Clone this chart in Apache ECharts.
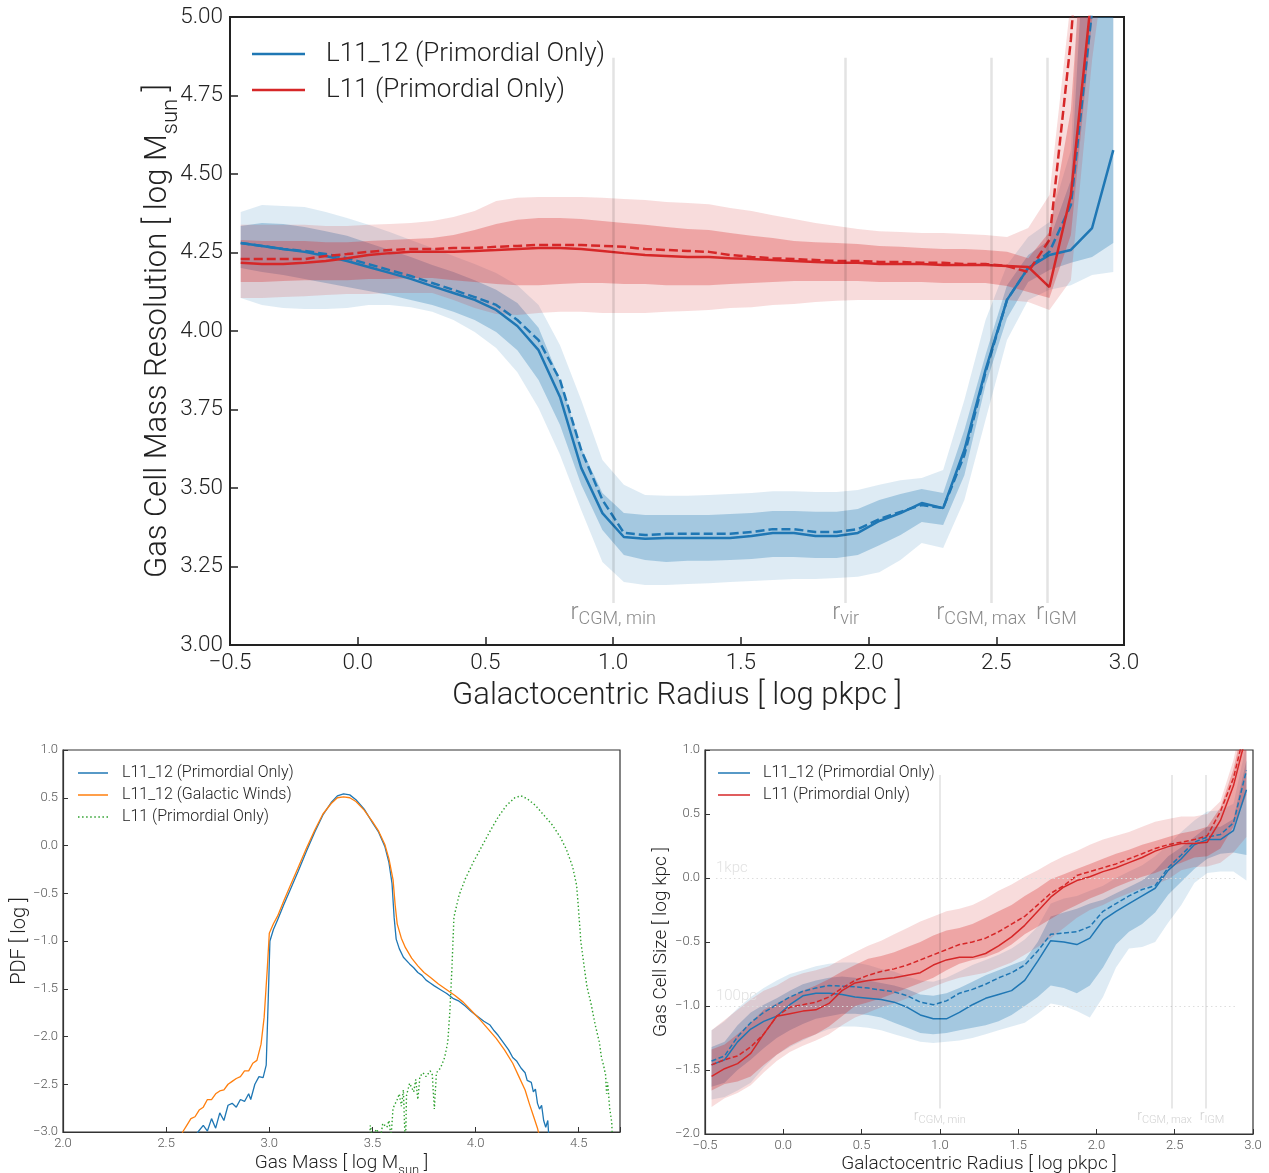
<!DOCTYPE html>
<html><head><meta charset="utf-8">
<script src="https://cdn.jsdelivr.net/npm/echarts@6/dist/echarts.min.js"></script>
<style>html,body{margin:0;padding:0;background:#fff}#c{width:1269px;height:1173px}</style>
</head><body><div id="c"></div>
<script>
// ---------- shared radial bins (log pkpc) ----------
const xBins = [-0.458,-0.375,-0.292,-0.208,-0.125,-0.042,0.042,0.125,0.208,0.292,0.375,0.458,0.542,0.625,0.708,0.792,0.875,0.958,1.042,1.125,1.208,1.292,1.375,1.458,1.542,1.625,1.708,1.792,1.875,1.958,2.042,2.125,2.208,2.292,2.375,2.458,2.542,2.625,2.708,2.792,2.875,2.958];

// ---------- top panel: gas cell mass resolution ----------
const topBlueSolid  = [4.280,4.271,4.261,4.252,4.239,4.223,4.204,4.185,4.166,4.143,4.121,4.099,4.067,4.016,3.939,3.790,3.564,3.420,3.344,3.338,3.341,3.341,3.341,3.341,3.347,3.357,3.357,3.347,3.347,3.357,3.395,3.420,3.452,3.436,3.621,3.876,4.099,4.201,4.242,4.258,4.328,4.576];
const topBlueDashed = [4.280,4.271,4.261,4.255,4.245,4.232,4.213,4.194,4.175,4.153,4.131,4.108,4.083,4.035,3.971,3.844,3.621,3.462,3.357,3.350,3.354,3.354,3.354,3.354,3.360,3.369,3.369,3.360,3.360,3.369,3.401,3.424,3.446,3.436,3.605,3.869,4.099,4.201,4.252,4.401,5.022,5.691];
const topBlueInHi   = [4.334,4.344,4.341,4.331,4.318,4.303,4.280,4.258,4.236,4.210,4.188,4.162,4.131,4.089,4.010,3.844,3.627,3.484,3.420,3.414,3.414,3.414,3.414,3.417,3.420,3.427,3.427,3.424,3.424,3.433,3.462,3.481,3.497,3.484,3.685,3.924,4.146,4.242,4.290,4.481,5.690,6.330];
const topBlueInLo   = [4.201,4.188,4.178,4.166,4.153,4.140,4.127,4.115,4.099,4.083,4.061,4.035,3.997,3.939,3.844,3.701,3.510,3.366,3.287,3.271,3.264,3.268,3.268,3.271,3.274,3.280,3.280,3.277,3.277,3.287,3.318,3.350,3.392,3.382,3.541,3.828,4.041,4.156,4.194,4.217,4.236,4.280];
const topBlueOutHi  = [4.379,4.401,4.398,4.395,4.379,4.360,4.338,4.315,4.290,4.264,4.239,4.213,4.185,4.146,4.083,3.955,3.780,3.589,3.510,3.478,3.475,3.475,3.478,3.481,3.484,3.490,3.490,3.487,3.487,3.494,3.510,3.525,3.532,3.557,3.780,4.035,4.210,4.299,4.347,4.576,6.010,6.650];
const topBlueOutLo  = [4.105,4.083,4.073,4.070,4.070,4.073,4.083,4.083,4.076,4.061,4.035,3.997,3.946,3.869,3.755,3.605,3.430,3.264,3.201,3.191,3.191,3.194,3.197,3.201,3.204,3.207,3.210,3.210,3.213,3.217,3.232,3.271,3.325,3.309,3.462,3.717,3.971,4.099,4.131,4.146,4.178,4.188];
const topRedSolid   = [4.217,4.213,4.213,4.217,4.223,4.232,4.242,4.248,4.252,4.252,4.252,4.255,4.258,4.261,4.264,4.264,4.261,4.255,4.248,4.242,4.239,4.236,4.236,4.232,4.229,4.226,4.223,4.220,4.217,4.217,4.213,4.213,4.213,4.210,4.210,4.210,4.207,4.204,4.140,4.433,5.086,5.691];
const topRedDashed  = [4.229,4.229,4.229,4.229,4.239,4.245,4.252,4.258,4.261,4.261,4.264,4.264,4.268,4.271,4.274,4.274,4.274,4.271,4.268,4.261,4.258,4.255,4.252,4.242,4.236,4.232,4.229,4.226,4.223,4.223,4.220,4.220,4.217,4.217,4.213,4.213,4.207,4.188,4.290,4.927,5.850,6.646];
const topRedInHi    = [4.290,4.287,4.287,4.287,4.283,4.283,4.287,4.290,4.293,4.296,4.306,4.322,4.341,4.354,4.360,4.360,4.357,4.350,4.344,4.338,4.331,4.325,4.322,4.312,4.303,4.296,4.287,4.283,4.280,4.277,4.271,4.268,4.264,4.261,4.261,4.258,4.252,4.232,4.315,4.704,5.691,6.646];
const topRedInLo    = [4.156,4.156,4.159,4.162,4.162,4.162,4.166,4.166,4.169,4.169,4.162,4.156,4.150,4.146,4.146,4.150,4.153,4.153,4.150,4.150,4.146,4.146,4.146,4.150,4.153,4.156,4.159,4.159,4.159,4.159,4.156,4.156,4.156,4.153,4.153,4.153,4.143,4.124,4.105,4.306,4.990,5.532];
const topRedOutHi   = [4.338,4.338,4.338,4.338,4.334,4.334,4.338,4.341,4.344,4.350,4.363,4.382,4.414,4.424,4.427,4.427,4.427,4.424,4.420,4.417,4.411,4.408,4.404,4.392,4.382,4.369,4.357,4.344,4.334,4.325,4.318,4.315,4.312,4.312,4.309,4.306,4.299,4.328,4.433,5.054,6.010,6.965];
const topRedOutLo   = [4.105,4.105,4.108,4.111,4.115,4.118,4.118,4.121,4.121,4.121,4.099,4.073,4.054,4.051,4.057,4.061,4.061,4.057,4.057,4.057,4.061,4.064,4.067,4.073,4.076,4.083,4.086,4.092,4.096,4.099,4.099,4.099,4.099,4.099,4.099,4.099,4.099,4.092,4.067,4.162,4.863,5.373];
const topRefX = [1.0, 1.91, 2.48, 2.70];
const topRefNames = ['CGM, min', 'vir', 'CGM, max', 'IGM'];
const topRefSpan = [3.134, 4.87];

// ---------- bottom-left: PDF of gas mass ----------
const pdfBlueX = [2.60,2.654,2.68,2.70,2.72,2.74,2.76,2.78,2.80,2.82,2.84,2.86,2.88,2.90,2.91,2.93,2.95,2.97,2.985,2.995,3.003,3.02,3.04,3.07,3.10,3.14,3.18,3.22,3.26,3.30,3.33,3.36,3.39,3.42,3.46,3.50,3.53,3.56,3.58,3.595,3.605,3.615,3.63,3.65,3.68,3.70,3.72,3.74,3.76,3.78,3.80,3.83,3.86,3.89,3.92,3.95,3.98,4.01,4.04,4.07,4.09,4.11,4.14,4.16,4.18,4.20,4.22,4.24,4.25,4.27,4.28,4.29,4.30,4.31,4.32,4.33,4.34,4.35,4.355,4.36];
const pdfBlueY = [-3.2,-3.0,-2.93,-2.99,-2.86,-2.96,-2.80,-2.88,-2.72,-2.70,-2.74,-2.66,-2.68,-2.60,-2.66,-2.50,-2.42,-2.43,-2.30,-1.6,-1.0,-0.88,-0.78,-0.62,-0.47,-0.27,-0.06,0.14,0.32,0.45,0.52,0.54,0.53,0.48,0.38,0.24,0.14,-0.01,-0.18,-0.40,-0.75,-0.98,-1.08,-1.17,-1.24,-1.28,-1.33,-1.36,-1.41,-1.44,-1.47,-1.51,-1.55,-1.60,-1.63,-1.68,-1.74,-1.79,-1.84,-1.88,-1.94,-1.99,-2.08,-2.14,-2.22,-2.26,-2.33,-2.38,-2.46,-2.48,-2.58,-2.55,-2.70,-2.76,-2.72,-2.88,-2.95,-2.88,-3.05,-3.2];
const pdfOrangeX = [2.56,2.58,2.60,2.62,2.64,2.66,2.68,2.70,2.72,2.74,2.76,2.78,2.80,2.82,2.84,2.86,2.88,2.90,2.92,2.94,2.96,2.975,2.99,3.00,3.02,3.04,3.07,3.10,3.14,3.18,3.22,3.26,3.30,3.33,3.36,3.39,3.42,3.46,3.50,3.53,3.56,3.58,3.60,3.61,3.62,3.64,3.66,3.69,3.72,3.75,3.78,3.82,3.86,3.90,3.94,3.98,4.02,4.06,4.10,4.14,4.18,4.21,4.24,4.26,4.28,4.30,4.31,4.32];
const pdfOrangeY = [-3.2,-3.0,-2.93,-2.86,-2.84,-2.77,-2.74,-2.66,-2.66,-2.60,-2.57,-2.56,-2.50,-2.47,-2.44,-2.42,-2.36,-2.36,-2.28,-2.25,-2.08,-1.80,-1.30,-0.92,-0.82,-0.74,-0.58,-0.43,-0.23,-0.03,0.16,0.33,0.44,0.50,0.51,0.50,0.46,0.37,0.25,0.15,0.01,-0.14,-0.36,-0.62,-0.82,-0.97,-1.07,-1.18,-1.26,-1.33,-1.38,-1.45,-1.51,-1.57,-1.64,-1.73,-1.82,-1.92,-2.02,-2.14,-2.28,-2.42,-2.56,-2.70,-2.83,-2.96,-3.05,-3.2];
const pdfGreenX = [3.48,3.49,3.50,3.52,3.54,3.55,3.57,3.58,3.59,3.60,3.62,3.63,3.64,3.65,3.66,3.665,3.68,3.70,3.71,3.72,3.73,3.745,3.76,3.78,3.79,3.80,3.81,3.83,3.85,3.865,3.875,3.885,3.895,3.92,3.95,3.99,4.03,4.07,4.11,4.15,4.19,4.22,4.25,4.29,4.33,4.37,4.41,4.44,4.47,4.49,4.50,4.51,4.525,4.54,4.56,4.58,4.60,4.61,4.62,4.63,4.635,4.64,4.65,4.66,4.665];
const pdfGreenY = [-3.3,-2.93,-3.05,-2.97,-3.05,-2.91,-2.95,-2.88,-3.05,-2.75,-2.66,-2.60,-2.73,-2.56,-3.2,-2.62,-2.49,-2.58,-2.45,-2.66,-2.42,-2.38,-2.42,-2.36,-2.40,-2.76,-2.38,-2.33,-2.22,-2.06,-1.75,-1.30,-0.75,-0.52,-0.35,-0.17,-0.01,0.15,0.30,0.42,0.50,0.52,0.49,0.42,0.32,0.22,0.09,-0.04,-0.22,-0.42,-0.70,-1.00,-1.25,-1.48,-1.66,-1.88,-2.06,-2.22,-2.30,-2.40,-2.60,-2.48,-2.75,-2.90,-3.2];

// ---------- bottom-right: gas cell size ----------
const brBlueSolid  = [-1.46,-1.42,-1.28,-1.18,-1.12,-1.08,-0.99,-0.92,-0.90,-0.90,-0.91,-0.93,-0.94,-0.95,-0.97,-1.01,-1.07,-1.10,-1.10,-1.05,-0.99,-0.94,-0.91,-0.88,-0.80,-0.65,-0.49,-0.50,-0.52,-0.47,-0.33,-0.26,-0.20,-0.14,-0.08,0.06,0.15,0.26,0.30,0.30,0.37,0.69];
const brBlueDashed = [-1.43,-1.39,-1.24,-1.13,-1.05,-0.99,-0.93,-0.885,-0.86,-0.84,-0.845,-0.85,-0.86,-0.875,-0.89,-0.92,-0.97,-0.99,-0.96,-0.90,-0.87,-0.83,-0.78,-0.74,-0.68,-0.57,-0.44,-0.43,-0.42,-0.38,-0.26,-0.20,-0.14,-0.09,-0.06,0.08,0.18,0.28,0.32,0.34,0.43,0.84];
const brBlueInHi   = [-1.32,-1.28,-1.15,-1.05,-0.99,-0.94,-0.88,-0.83,-0.80,-0.78,-0.77,-0.78,-0.80,-0.82,-0.84,-0.87,-0.91,-0.92,-0.90,-0.86,-0.81,-0.76,-0.72,-0.68,-0.64,-0.50,-0.30,-0.27,-0.24,-0.20,-0.17,-0.12,-0.07,-0.02,0.06,0.17,0.24,0.32,0.40,0.40,0.46,0.92];
const brBlueInLo   = [-1.63,-1.60,-1.50,-1.42,-1.33,-1.25,-1.19,-1.14,-1.10,-1.08,-1.06,-1.06,-1.07,-1.09,-1.13,-1.17,-1.21,-1.22,-1.21,-1.19,-1.17,-1.15,-1.12,-1.07,-1.00,-0.93,-0.84,-0.86,-0.90,-0.84,-0.70,-0.52,-0.42,-0.36,-0.27,-0.13,-0.03,0.07,0.15,0.19,0.20,0.18];
const brBlueOutHi  = [-1.19,-1.12,-1.02,-0.93,-0.86,-0.80,-0.75,-0.72,-0.69,-0.67,-0.66,-0.66,-0.68,-0.71,-0.73,-0.77,-0.80,-0.81,-0.78,-0.73,-0.68,-0.64,-0.60,-0.55,-0.48,-0.38,-0.20,-0.16,-0.14,-0.10,-0.06,0.00,0.05,0.10,0.17,0.26,0.36,0.45,0.52,0.53,0.58,1.05];
const brBlueOutLo  = [-1.73,-1.71,-1.66,-1.60,-1.48,-1.38,-1.32,-1.27,-1.22,-1.18,-1.16,-1.16,-1.17,-1.19,-1.22,-1.25,-1.28,-1.29,-1.28,-1.27,-1.25,-1.22,-1.19,-1.16,-1.13,-1.06,-0.98,-1.00,-1.04,-1.09,-0.93,-0.70,-0.55,-0.54,-0.50,-0.35,-0.21,-0.04,0.04,0.05,0.05,-0.02];
const brRedSolid   = [-1.55,-1.49,-1.45,-1.37,-1.22,-1.08,-1.06,-1.04,-1.03,-0.98,-0.88,-0.82,-0.80,-0.79,-0.78,-0.76,-0.74,-0.68,-0.64,-0.62,-0.62,-0.59,-0.53,-0.46,-0.37,-0.26,-0.15,-0.07,-0.02,0.01,0.05,0.08,0.12,0.16,0.21,0.245,0.27,0.27,0.28,0.45,0.72,1.12];
const brRedDashed  = [-1.46,-1.42,-1.39,-1.32,-1.22,-1.08,-1.01,-0.99,-0.97,-0.93,-0.86,-0.80,-0.76,-0.73,-0.71,-0.68,-0.64,-0.60,-0.56,-0.52,-0.50,-0.47,-0.42,-0.36,-0.30,-0.21,-0.12,-0.06,0.02,0.05,0.08,0.11,0.15,0.19,0.23,0.26,0.28,0.30,0.33,0.52,0.78,1.2];
const brRedInHi    = [-1.34,-1.30,-1.22,-1.13,-1.03,-0.98,-0.93,-0.88,-0.84,-0.79,-0.73,-0.68,-0.63,-0.61,-0.58,-0.54,-0.50,-0.45,-0.41,-0.39,-0.36,-0.31,-0.26,-0.21,-0.14,-0.08,-0.01,0.03,0.07,0.11,0.15,0.19,0.22,0.26,0.29,0.32,0.35,0.37,0.40,0.55,0.85,1.30];
const brRedInLo    = [-1.66,-1.61,-1.59,-1.55,-1.46,-1.38,-1.31,-1.26,-1.22,-1.16,-1.08,-1.00,-0.97,-0.94,-0.90,-0.86,-0.82,-0.78,-0.72,-0.67,-0.64,-0.62,-0.58,-0.52,-0.44,-0.38,-0.32,-0.26,-0.21,-0.16,-0.12,-0.07,-0.03,0.01,0.04,0.08,0.12,0.16,0.17,0.23,0.40,0.65];
const brRedOutHi   = [-1.19,-1.11,-1.03,-0.95,-0.88,-0.84,-0.78,-0.745,-0.72,-0.69,-0.63,-0.58,-0.53,-0.49,-0.44,-0.39,-0.34,-0.30,-0.26,-0.24,-0.21,-0.16,-0.10,-0.05,0.01,0.06,0.12,0.17,0.21,0.26,0.30,0.33,0.36,0.40,0.44,0.46,0.48,0.48,0.50,0.60,0.92,1.40];
const brRedOutLo   = [-1.79,-1.72,-1.68,-1.62,-1.52,-1.43,-1.36,-1.31,-1.27,-1.22,-1.15,-1.09,-1.05,-1.01,-0.98,-0.94,-0.89,-0.85,-0.81,-0.78,-0.76,-0.74,-0.70,-0.66,-0.60,-0.54,-0.47,-0.39,-0.31,-0.25,-0.21,-0.16,-0.12,-0.08,-0.05,-0.01,0.06,0.085,0.09,0.12,0.20,0.32];
const brRefX = [1.0, 2.48, 2.70];
const brRefNames = ['CGM, min', 'CGM, max', 'IGM'];
const brRefSpan = [-1.80, 0.805];
const brScaleY = [0, -1];
const brScaleNames = ['1kpc', '100pc'];
const brScaleSpan = [-0.43, 2.90];

// ---------- styling ----------
const BLUE='#1f77b4', RED='#d62728', ORANGE='#ff7f0e', GREEN='#2ca02c';
const F='Roboto';
const N1='L11_12 (Primordial Only)', N2='L11 (Primordial Only)', N3='L11_12 (Galactic Winds)';
const strip = n => n.replace(/ #\d$/, '');
const DOTS = 'path://M0 0h1.4v1h-1.4zM3.8 0h1.4v1h-1.4zM7.6 0h1.4v1h-1.4zM11.4 0h1.4v1h-1.4zM15.2 0h1.4v1h-1.4zM19 0h1.4v1h-1.4zM22.8 0h1.4v1h-1.4zM26.6 0h1.4v1h-1.4z';

function fmt(d, step){
  return v => {
    const k = v/step;
    if (Math.abs(k-Math.round(k))>1e-6) return '';
    return v.toFixed(d).replace('-', '\u2212');
  };
}
function P(xs, ys){ return xs.map((x,i)=>[x, ys[i]]); }
// filled band between lo and hi, drawn as one polygon through the axis scales
function band(g, xs, lo, hi, color){
  return {type:'custom', xAxisIndex:g, yAxisIndex:g, silent:true, z:2, clip:true,
    data: xs.map((x,i)=>[x, lo[i], hi[i]]),
    encode:{x:0, y:[1,2]},
    renderItem:(params, api)=>{
      if (params.dataIndex !== 0) return null;
      const pts = [];
      for (let i=0;i<xs.length;i++) pts.push(api.coord([xs[i], hi[i]]));
      for (let i=xs.length-1;i>=0;i--) pts.push(api.coord([xs[i], lo[i]]));
      return {type:'polygon', shape:{points:pts}, style:{fill:color, stroke:null}};
    }};
}
function line(g, name, xs, ys, color, width, type){
  return {type:'line', name:name, xAxisIndex:g, yAxisIndex:g, data:P(xs,ys), symbol:'none', showSymbol:false,
    lineStyle:{color:color, width:width, type:type||'solid', cap:'butt'}, itemStyle:{color:color}, silent:true, z:4, clip:true};
}
function txt(size, color, extra){ return Object.assign({fontFamily:F, fontWeight:300, fontSize:size, color:color}, extra||{}); }

function axisCfg(g, min, max, step, dec, name, o){
  return {gridIndex:g, type:'value', min:min, max:max, interval:step,
    axisLine:{show:true, onZero:false, lineStyle:{color:o.lc, width:o.lw}},
    axisTick:{show:true, inside:true, length:o.tl, lineStyle:{color:o.lc, width:o.tw}},
    splitLine:{show:false},
    axisLabel:txt(o.fs, o.labc, {margin:o.m, formatter:fmt(dec, step)}),
    name:name, nameLocation:'middle', nameGap:o.ng, nameMoveOverlap:false,
    nameTextStyle:txt(o.nfs, '#222', {rich:o.rich})};
}
function yAxisCfg(g, min, max, step, dec, name, o){
  const a = axisCfg(g, min, max, step, dec, name, o);
  a.nameRotate = 90;
  return a;
}
function richName(fs, sfs, pad){
  return {m:txt(fs,'#222',{verticalAlign:'bottom', lineHeight:fs, padding:[0,0,pad,0]}),
          s:txt(sfs,'#222',{verticalAlign:'bottom', lineHeight:sfs})};
}

const topO  = {lc:'#222', lw:2, tl:8, tw:1.5, fs:22.5, labc:'#222', m:7, ng:44, nfs:31, rich:richName(31,22,8)};
const topYO = Object.assign({}, topO, {ng:48});
const blO   = {lc:'#333', lw:1.2, tl:5, tw:1, fs:13, labc:'#555', m:5, ng:26, nfs:19, rich:richName(19,13,4)};
const blYO  = Object.assign({}, blO, {nfs:20, rich:richName(20,14,5), ng:28});
const brO   = Object.assign({}, blO, {nfs:19, rich:richName(19,13,5), ng:26});
const brYO  = Object.assign({}, brO, {ng:29});

function refLines(g, xs, names, span, offs, o){
  return {type:'line', name:'ref'+g, xAxisIndex:g, yAxisIndex:g, data:[], silent:true, z:3,
    markLine:{silent:true, symbol:['none','none'], animation:false,
      lineStyle:{color:o.color, width:o.width, type:'solid'},
      label:{show:true, position:'start', distance:o.dist, color:o.tc,
        rich:{r:txt(o.rs, o.tc, {verticalAlign:'bottom', lineHeight:o.rs, padding:[0,0,o.rp,0]}),
              s:txt(o.ss, o.tc, {verticalAlign:'bottom', lineHeight:o.ss})}},
      data: xs.map((x,i)=>[{coord:[x, span[0]], label:{formatter:'{r|r}{s|'+names[i]+'}', offset:[offs[i],0]}}, {coord:[x, span[1]]}])
    }};
}
function scaleLines(g){
  return {type:'line', name:'scale'+g, xAxisIndex:g, yAxisIndex:g, data:[], silent:true, z:3,
    markLine:{silent:true, symbol:['none','none'], animation:false,
      lineStyle:{color:'#dddddd', width:1, type:[1.5,3]},
      label:{show:true, position:'insideStartTop', distance:[0,2], color:'#e2e2e2', fontFamily:F, fontWeight:300, fontSize:15},
      data: brScaleY.map((y,i)=>[{coord:[brScaleSpan[0], y], label:{formatter:brScaleNames[i]}}, {coord:[brScaleSpan[1], y]}])
    }};
}

const series = [
  // top panel
  band(0,xBins,topBlueOutLo,topBlueOutHi,'rgba(31,119,180,0.15)'),
  band(0,xBins,topBlueInLo,topBlueInHi,'rgba(31,119,180,0.30)'),
  band(0,xBins,topRedOutLo,topRedOutHi,'rgba(214,39,40,0.16)'),
  band(0,xBins,topRedInLo,topRedInHi,'rgba(214,39,40,0.30)'),
  refLines(0, topRefX, topRefNames, topRefSpan, [0,0,-10,9], {color:'rgba(0,0,0,0.11)', width:2.5, tc:'#8a8a8a', rs:24, ss:18, rp:4, dist:2}),
  line(0,'tbd',xBins,topBlueDashed,BLUE,2.5,[9,4]),
  line(0,N1,xBins,topBlueSolid,BLUE,2.5),
  line(0,'trd',xBins,topRedDashed,RED,2.5,[9,4]),
  line(0,N2,xBins,topRedSolid,RED,2.5),
  // bottom-left
  line(1,N1+' #1',pdfBlueX,pdfBlueY,BLUE,1.3),
  line(1,N3+' #1',pdfOrangeX,pdfOrangeY,ORANGE,1.3),
  line(1,N2+' #1',pdfGreenX,pdfGreenY,GREEN,1.4,[1.4,2.4]),
  // bottom-right
  band(2,xBins,brBlueOutLo,brBlueOutHi,'rgba(31,119,180,0.15)'),
  band(2,xBins,brBlueInLo,brBlueInHi,'rgba(31,119,180,0.30)'),
  band(2,xBins,brRedOutLo,brRedOutHi,'rgba(214,39,40,0.16)'),
  band(2,xBins,brRedInLo,brRedInHi,'rgba(214,39,40,0.30)'),
  scaleLines(2),
  refLines(2, brRefX, brRefNames, brRefSpan, [0,-7,6], {color:'rgba(0,0,0,0.09)', width:2, tc:'#d2d2d2', rs:14, ss:11, rp:2, dist:3}),
  line(2,'bbd',xBins,brBlueDashed,BLUE,1.5,[5,2.5]),
  line(2,N1+' #2',xBins,brBlueSolid,BLUE,1.5),
  line(2,'brd',xBins,brRedDashed,RED,1.5,[5,2.5]),
  line(2,N2+' #2',xBins,brRedSolid,RED,1.5)
];

const option = {
  animation:false,
  backgroundColor:'#ffffff',
  grid:[
    {left:230, top:17, width:894, height:628, show:true, borderColor:'#222', borderWidth:2, backgroundColor:'transparent', containLabel:false, outerBoundsMode:'none'},
    {left:63, top:750, width:557, height:382, show:true, borderColor:'#333', borderWidth:1.2, backgroundColor:'transparent', containLabel:false, outerBoundsMode:'none'},
    {left:705, top:750, width:548, height:384, show:true, borderColor:'#333', borderWidth:1.2, backgroundColor:'transparent', containLabel:false, outerBoundsMode:'none'}
  ],
  xAxis:[
    axisCfg(0,-0.5,3.0,0.5,1,'{m|Galactocentric Radius [ log pkpc ]}',topO),
    axisCfg(1,2.0,4.7,0.5,1,'{m|Gas Mass [ log M}{s|sun}{m| ]}',blO),
    axisCfg(2,-0.5,3.0,0.5,1,'{m|Galactocentric Radius [ log pkpc ]}',brO)
  ],
  yAxis:[
    yAxisCfg(0,3.0,5.0,0.25,2,'{m|Gas Cell Mass Resolution [ log M}{s|sun}{m| ]}',topYO),
    yAxisCfg(1,-3.0,1.0,0.5,1,'{m|PDF [ log ]}',blYO),
    yAxisCfg(2,-2.0,1.0,0.5,1,'{m|Gas Cell Size [ log kpc ]}',brYO)
  ],
  legend:[
    {data:[N1,N2], orient:'vertical', left:252, top:39, padding:0, icon:'rect', itemWidth:53, itemHeight:2.5, itemGap:6, selectedMode:false,
     symbolKeepAspect:false, formatter:strip, textStyle:txt(26,'#222',{padding:[0,0,0,16], lineHeight:30})},
    {data:[N1+' #1',N3+' #1',{name:N2+' #1', icon:DOTS}], orient:'vertical', left:78, top:764, padding:0, icon:'rect', itemWidth:30, itemHeight:1.5, itemGap:4, selectedMode:false,
     symbolKeepAspect:false, formatter:strip, textStyle:txt(16,'#222',{padding:[0,0,0,9], lineHeight:18})},
    {data:[N1+' #2',N2+' #2'], orient:'vertical', left:718, top:764, padding:0, icon:'rect', itemWidth:32, itemHeight:1.5, itemGap:4, selectedMode:false,
     symbolKeepAspect:false, formatter:strip, textStyle:txt(16,'#222',{padding:[0,0,0,8], lineHeight:18})}
  ],
  series:series
};
const chart = echarts.init(document.getElementById('c'), null, {renderer:'canvas'});
chart.setOption(option);
</script></body></html>
